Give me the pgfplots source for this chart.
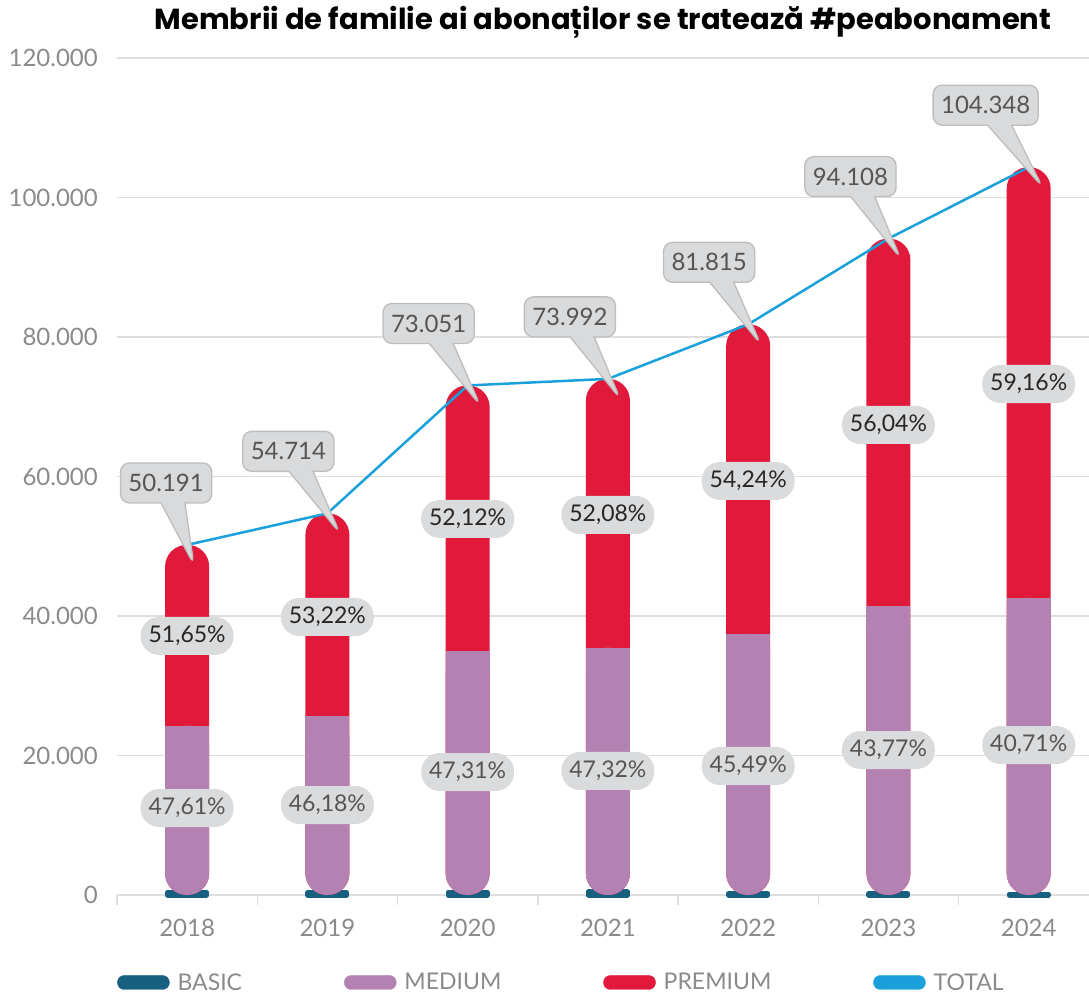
\documentclass[border=0pt]{standalone}
\usepackage{fontspec}
\setmainfont{Lato}
\newfontfamily\titlefont{Poppins}
\usepackage{pgfplots}
\usepackage{pgfplotstable}
\pgfplotsset{compat=1.18}
\usetikzlibrary{shapes.callouts}

\definecolor{cbasic}{HTML}{17607F}
\definecolor{cmed}{HTML}{B381B2}
\definecolor{cprem}{HTML}{E1193A}
\definecolor{ctot}{HTML}{1AA0DA}
\definecolor{cgrid}{HTML}{DEDEDE}
\definecolor{ctick}{HTML}{8A8A8A}
\definecolor{cpill}{HTML}{DADBDC}
\definecolor{ccall}{HTML}{D9DADB}
\definecolor{cborder}{HTML}{BDBDBD}
\definecolor{cnum}{HTML}{555555}

\pgfdeclareplotmark{sqtop}{%
  \pgfpathrectanglecorners{\pgfqpoint{-22pt}{-23pt}}{\pgfqpoint{22pt}{0pt}}%
  \pgfusepathqfill}

\pgfplotstableread{
x basic medium premium total
0 371 23896 25924 50191
1 328 25267 29119 54714
2 416 34560 38075 73051
3 444 35013 38535 73992
4 221 37218 44376 81815
5 179 41191 52738 94108
6 136 42480 61732 104348
}\data

\pgfplotstableread{
x total ox lab
0 50191 21 50.191
1 54714 39 54.714
2 73051 39 73.051
3 73992 38 73.992
4 81815 39 81.815
5 94108 38 94.108
6 104348 43 104.348
}\callouts

\pgfplotstableread{
x y lab
0 37133 51,65\%
1 39857 53,22\%
2 53907 52,12\%
3 54480 52,08\%
4 59355 54,24\%
5 67383 56,04\%
6 73261 59,16\%
}\premlabels

\pgfplotstableread{
x y lab
0 12473 47,61\%
1 12903 46,18\%
2 17634 47,31\%
3 17778 47,32\%
4 18495 45,49\%
5 20788 43,77\%
6 21505 40,71\%
}\medlabels

\begin{document}
\begin{tikzpicture}
\begin{axis}[
  at={(0pt,0pt)}, anchor=south west,
  scale only axis,
  width=972pt, height=837pt,
  xmin=-0.5, xmax=6.43,
  ymin=0, ymax=120000,
  clip=false,
  scaled y ticks=false,
  axis lines*=left,
  y axis line style={draw=none},
  x axis line style={draw=cgrid, line width=2pt, -},
  ymajorgrids,
  grid style={draw=cgrid, line width=1.5pt},
  ytick={0,20000,40000,60000,80000,100000,120000},
  yticklabels={0,20.000,40.000,60.000,80.000,100.000,120.000},
  xtick={0,...,6},
  xticklabels={2018,2019,2020,2021,2022,2023,2024},
  minor xtick={-0.5,0.5,1.5,2.5,3.5,4.5,5.5},
  major tick length=0pt,
  minor tick length=10pt,
  xtick align=outside,
  minor tick style={draw=cgrid, line width=1.5pt},
  ytick style={draw=none},
  yticklabel style={font=\fontsize{24}{28}\selectfont, text=ctick, inner sep=0pt, xshift=-19pt},
  xticklabel style={font=\fontsize{24}{28}\selectfont, text=ctick, yshift=-21pt},
  title={Membrii de familie ai abonaților se tratează \#peabonament},
  title style={font=\titlefont\bfseries\fontsize{29}{34}\selectfont, at={(0.5,1)}, anchor=center, yshift=30pt},
  legend columns=4,
  legend style={at={(0,-0.1045)}, anchor=west, draw=none, fill=none, inner sep=0pt,
    font=\fontsize{23}{26}\selectfont, text=ctick,
    /tikz/every odd column/.append style={column sep=6pt},
    /tikz/every even column/.append style={column sep=100pt}},
  legend entries={BASIC,MEDIUM,PREMIUM,TOTAL},
]
\addlegendimage{legend image code/.code={\fill[cbasic, rounded corners=6.9pt] (0pt,-7pt) rectangle (52pt,7pt);}}
\addlegendimage{legend image code/.code={\fill[cmed, rounded corners=6.9pt] (0pt,-7pt) rectangle (52pt,7pt);}}
\addlegendimage{legend image code/.code={\fill[cprem, rounded corners=6.9pt] (0pt,-7pt) rectangle (52pt,7pt);}}
\addlegendimage{legend image code/.code={\fill[ctot, rounded corners=6.9pt] (0pt,-7pt) rectangle (52pt,7pt);}}

% BASIC: small pill at the bottom
\addplot[ybar, bar width=39pt, bar shift=0pt, fill=cbasic, draw=cbasic, line width=5pt, line join=round]
  table[x=x, y=basic] {\data};
% PREMIUM (full capsule up to total)
\addplot[ybar, bar width=44pt, bar shift=0pt, fill=cprem, draw=none, rounded corners=21.5pt]
  table[x=x, y=total] {\data};
% MEDIUM (capsule up to basic+medium)
\addplot[ybar, bar width=44pt, bar shift=0pt, fill=cmed, draw=none, rounded corners=21.5pt]
  table[x=x, y expr=\thisrow{basic}+\thisrow{medium}] {\data};
% square top of MEDIUM
\addplot[only marks, mark=sqtop, color=cmed, mark options={fill=cmed, draw=none}]
  table[x=x, y expr=\thisrow{basic}+\thisrow{medium}] {\data};
% TOTAL line
\addplot[color=ctot, line width=2.5pt, mark=none]
  table[x=x, y=total] {\data};
% percentage labels
\addplot[draw=none, mark=none, point meta=explicit symbolic, nodes near coords,
  every node near coord/.append style={anchor=center, fill=cpill, rounded corners=18.5pt,
    minimum width=93pt, minimum height=38pt, inner sep=0pt, text=black!85,
    font=\fontsize{23}{27}\selectfont}]
  table[x=x, y=y, meta=lab] {\premlabels};
\addplot[draw=none, mark=none, point meta=explicit symbolic, nodes near coords,
  every node near coord/.append style={anchor=center, fill=cpill, rounded corners=18.5pt,
    minimum width=93pt, minimum height=38pt, inner sep=0pt, text=cnum,
    font=\fontsize{23}{27}\selectfont}]
  table[x=x, y=y, meta=lab] {\medlabels};
% total callouts
\addplot[draw=none, mark=none, point meta=explicit symbolic, nodes near coords,
  visualization depends on={\thisrow{ox} \as \ox},
  every node near coord/.append style={anchor=center, xshift=-\ox pt, yshift=62pt,
    rectangle callout, callout relative pointer={(\ox pt,-62pt)}, callout pointer width=24pt,
    fill=ccall, draw=cborder, line width=1.3pt, rounded corners=9pt,
    minimum height=40pt, minimum width=88pt, inner xsep=8pt, inner ysep=0pt, text=cnum,
    font=\fontsize{24}{28}\selectfont}]
  table[x=x, y=total, meta=lab] {\callouts};
\end{axis}
\pgfresetboundingbox
\useasboundingbox (-117pt,-98pt) rectangle (972pt,895pt);
\end{tikzpicture}
\end{document}
